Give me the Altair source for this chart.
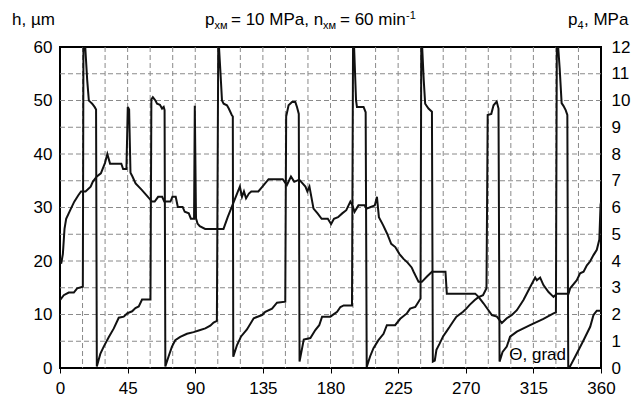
import altair as alt
import pandas as pd

FONT = "Liberation Sans"

# ---- h series (wavy line, µm) ----
h_deg = [0, 0.8, 1.9, 3.0, 4.1, 6.8, 9.5, 12.2, 14.0, 17.0, 20.4, 21.8, 24.5, 27.2, 29.9, 31.5,
         33.3, 40.8, 42.0, 44.2, 45.1, 46.0, 46.9, 48.2, 50.3, 54.4, 58.5, 61.2, 63.0, 65.3, 68.0,
         69.4, 73.5, 74.8, 77.0, 78.4, 81.6, 83.0, 85.7, 87.1, 89.2, 89.7, 90.5, 91.5, 93.0, 96.6,
         108.8, 111.6, 115.7, 118.4, 119.7, 121.1, 122.4, 123.8, 125.7, 127.3, 132.0, 134.7, 138.8,
         148.2, 151.0, 153.7, 155.9, 159.2, 160.5, 163.3, 164.6, 166.0, 168.7, 171.4, 174.1, 178.2,
         180.4, 182.3, 185.0, 187.8, 190.5, 193.2, 194.6, 196.0, 198.6, 202.7, 204.1, 206.8, 209.5,
         210.9, 212.2, 215.0, 217.7, 220.4, 223.1, 225.9, 228.6, 231.3, 234.0, 235.3, 238.6, 240.8,
         244.2, 247.5, 256.5, 257.4, 276.3, 278.5, 281.8, 285.1, 287.4, 290.7, 294.0, 297.3, 300.7,
         304.0, 308.4, 312.8, 316.2, 317.3, 319.5, 321.7, 325.1, 328.4, 330.6, 338.4, 339.5, 343.9,
         346.1, 348.4, 350.6, 352.7, 355.0, 357.2, 358.9, 359.7, 360.0]
h_val = [20.5, 19.5, 21.3, 26.0, 27.9, 29.5, 31.1, 32.3, 33.0, 33.0, 33.9, 34.8, 35.8, 36.4, 38.3, 40.0,
         38.2, 38.2, 37.2, 37.2, 48.8, 48.3, 36.5, 35.8, 34.5, 33.3, 32.0, 31.1, 31.1, 32.0, 32.0,
         31.1, 31.1, 32.0, 32.0, 30.1, 30.1, 29.2, 28.9, 27.9, 27.9, 49.0, 28.0, 27.0, 26.5, 26.0,
         26.0, 28.2, 31.1, 33.0, 33.9, 32.0, 33.0, 31.7, 32.6, 33.0, 33.0, 33.9, 35.3,
         35.3, 34.2, 35.8, 34.8, 35.2, 34.8, 33.9, 33.0, 33.9, 29.8, 28.9, 27.9, 27.9,
         26.9, 27.9, 28.2, 28.9, 29.5, 31.1, 30.4, 29.2, 30.4, 30.4, 29.8, 30.1, 30.4,
         32.0, 28.2, 26.7, 25.1, 23.2, 22.6, 21.3, 20.4, 19.7, 18.8, 18.0, 16.1, 16.1,
         17.1, 18.0, 18.0, 13.9, 13.9, 13.3, 12.1, 10.8, 9.9, 9.6, 8.4, 9.3, 9.9,
         10.8, 12.7, 15.1, 16.9, 16.4, 16.9, 15.5, 14.2, 13.3, 13.9, 13.9, 14.9, 16.4,
         17.7, 18.0, 19.2, 19.9, 21.1, 22.1, 24.0, 30.5, 31.0]

# ---- saw-tooth / pulse series ----
s_deg = [0, 2.5, 5.8, 9.2, 11.4, 15.2, 15.6, 16.8, 18.1, 19.2, 20.3, 21.4, 23.0, 24.0, 24.5,
         26.9, 29.1, 32.5, 35.8, 39.1, 42.4, 44.7, 48.0, 50.2, 52.4, 54.6, 60.2,
         60.8, 61.8, 63.5, 64.6, 66.5, 67.9, 69.0, 69.6, 70.1,
         72.3, 74.5, 76.7, 80.0, 84.5, 88.9, 92.3, 96.7, 100.0, 102.2, 104.4,
         105.3, 105.8, 106.7, 107.8, 108.9, 111.1, 112.3, 114.3, 115.0, 115.3,
         117.8, 120.5, 124.4, 128.9, 134.4, 136.6, 141.1, 144.4, 149.9,
         150.5, 152.1, 154.4, 156.6, 157.7, 158.9, 159.4,
         162.2, 166.6, 169.9, 172.5, 174.4, 179.9, 184.4, 186.6, 188.8, 194.3,
         195.0, 195.7, 197.0, 197.6, 202.0, 203.4, 204.1,
         206.4, 208.6, 211.9, 215.3, 217.5, 223.0, 226.4, 230.8, 233.0, 236.4, 238.6, 239.9,
         240.4, 241.0, 242.0, 243.0, 245.2, 247.5, 248.1,
         249.4, 250.5, 252.7, 254.9, 257.1, 259.3, 261.6, 263.8, 268.2, 270.4, 272.6, 276.0,
         278.2, 281.5, 283.8, 284.6, 287.0, 288.5, 290.6, 291.8, 292.5,
         294.5, 297.3, 299.5, 304.0, 312.8, 321.7, 328.4, 330.0,
         330.6, 331.5, 332.5, 333.8, 335.0, 336.5, 337.6, 338.2,
         339.4, 343.9, 348.4, 352.8, 355.0, 357.2, 360.0]
s_val = [12.7, 13.6, 14.1, 14.1, 14.9, 15.2, 60.0, 60.0, 53.8, 50.0, 49.7, 49.4, 48.8, 48.3, 0.3,
         2.7, 4.0, 5.8, 7.4, 9.4, 9.6, 10.2, 10.6, 11.2, 11.5, 12.8, 12.8,
         50.2, 50.6, 50.0, 49.4, 49.2, 48.5, 48.8, 48.2, 0.3,
         2.2, 4.0, 5.2, 5.8, 6.4, 6.7, 7.0, 7.4, 7.9, 8.5, 8.8,
         60.0, 60.0, 55.6, 50.0, 49.4, 49.1, 48.5, 47.3, 47.0, 2.1,
         4.3, 5.9, 7.2, 9.3, 9.9, 10.5, 11.1, 12.2, 12.4,
         47.0, 49.1, 49.7, 49.7, 48.8, 47.5, 1.2,
         5.3, 5.6, 7.1, 8.0, 9.6, 9.6, 10.5, 11.4, 11.7, 11.7,
         60.0, 60.0, 50.0, 48.8, 48.8, 47.8, 0.2,
         2.2, 3.7, 5.2, 6.4, 8.0, 8.0, 9.2, 10.2, 11.1, 11.4, 12.4, 13.0,
         60.0, 60.0, 54.0, 49.4, 48.5, 47.9, 1.2,
         1.4, 3.4, 4.6, 5.9, 6.8, 7.7, 8.7, 9.6, 10.5, 11.1, 11.8, 12.7,
         13.2, 13.6, 14.9, 47.3, 47.5, 49.1, 49.8, 48.5, 1.2,
         3.0, 4.0, 5.85, 6.8, 8.0, 9.2, 10.2, 10.4,
         60.0, 60.0, 56.0, 49.5, 49.0, 48.2, 47.3, 0.2,
         0.3, 2.7, 5.2, 7.7, 9.9, 10.7, 10.7]

grid_x = list(range(15, 360, 15))
grid_y = list(range(5, 60, 5))
x_ticks = list(range(0, 361, 45))
left_ticks = list(range(0, 61, 10))
right_ticks = list(range(0, 13))

df_h = pd.DataFrame({"deg": h_deg, "val": h_val, "i": list(range(len(h_deg)))})
df_s = pd.DataFrame({"deg": s_deg, "val": s_val, "i": list(range(len(s_deg)))})

x_scale = alt.Scale(domain=[0, 360], nice=False, zero=False)
y_scale = alt.Scale(domain=[0, 60], nice=False, zero=False)

LBL = 17
x_axis = alt.Axis(values=x_ticks, title=None, grid=False, domain=False, tickSize=5,
                  tickColor="black", labelPadding=7, labelFontSize=LBL, labelFont=FONT,
                  labelColor="black", labelFlush=False)
y_axis = alt.Axis(values=left_ticks, title=None, grid=False, domain=False, ticks=False,
                  labelPadding=8, labelFontSize=LBL, labelFont=FONT, labelColor="black")

X = lambda f: alt.X(f, scale=x_scale, axis=x_axis)
Y = lambda f: alt.Y(f, scale=y_scale, axis=y_axis)

grid_color = "#8a8a8a"
grid_v = alt.Chart(pd.DataFrame({"gx": grid_x})).mark_rule(
    color=grid_color, strokeDash=[5, 3], strokeWidth=1).encode(x=X("gx:Q"))
grid_h = alt.Chart(pd.DataFrame({"gy": grid_y})).mark_rule(
    color=grid_color, strokeDash=[5, 3], strokeWidth=1).encode(y=Y("gy:Q"))

line_h = alt.Chart(df_h).mark_line(color="#111111", strokeWidth=2, clip=True).encode(
    x=X("deg:Q"), y=Y("val:Q"), order="i:Q")
line_s = alt.Chart(df_s).mark_line(color="#111111", strokeWidth=2, clip=True).encode(
    x=X("deg:Q"), y=Y("val:Q"), order="i:Q")

theta_lbl = alt.Chart(pd.DataFrame({"x": [299], "y": [1.5], "t": ["Θ, grad"]})).mark_text(
    align="left", baseline="alphabetic", fontSize=17, font=FONT, color="black").encode(
    x=X("x:Q"), y=Y("y:Q"), text="t:N")


def piece(text, px, py, size):
    return alt.Chart(pd.DataFrame({"t": [text]})).mark_text(
        align="left", baseline="alphabetic", fontSize=size, font=FONT, color="black").encode(
        x=alt.value(px), y=alt.value(py), text="t:N")


BIG, SMALL = 17, 11
BASE = -22
headers = [
    piece("h, µm", -48, BASE, BIG),
    piece("p", 145, BASE, BIG),
    piece("хм", 154.5, BASE + 4, SMALL),
    piece("= 10 MPa, n", 171, BASE, BIG),
    piece("хм", 263, BASE + 4, SMALL),
    piece("= 60 min", 280, BASE, BIG),
    piece("-1", 346, BASE - 6, SMALL),
    piece("p", 508, BASE, BIG),
    piece("4", 517.5, BASE + 4, SMALL),
    piece(", MPa", 524, BASE, BIG),
]

main = alt.layer(grid_v, grid_h, line_h, line_s, theta_lbl, *headers)

right = alt.Chart(pd.DataFrame({"p": right_ticks})).mark_point(opacity=0).encode(
    y=alt.Y("p:Q", scale=alt.Scale(domain=[0, 12], nice=False, zero=False),
            axis=alt.Axis(orient="right", values=right_ticks, title=None, grid=False,
                          domain=False, ticks=False, labelPadding=10, labelFontSize=LBL,
                          labelFont=FONT, labelColor="black")))

chart = alt.layer(main, right).resolve_scale(y="independent").properties(
    width=541, height=321,
    padding={"left": 52, "top": 39, "right": 31, "bottom": 32},
    autosize=alt.AutoSizeParams(type="none"),
    background="white",
).configure_view(stroke="black", strokeWidth=2)

chart.save("out.html", embed_options={"renderer": "svg", "actions": False})
